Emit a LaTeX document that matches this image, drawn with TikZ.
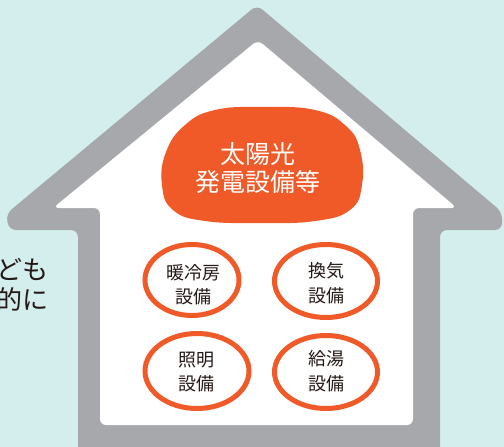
\documentclass[tikz,border=0pt]{standalone}
\usepackage{fontspec}
\newfontfamily\jp{Noto Sans CJK JP}
\definecolor{bgteal}{HTML}{D4EEED}
\definecolor{housegrey}{HTML}{A7A8AB}
\definecolor{sunorange}{HTML}{EF5A28}
\definecolor{inkdark}{HTML}{231815}
\tikzset{
  equipring/.style={draw=sunorange, line width=5pt, fill=white},
  equiptext/.style={inner sep=0pt, align=center, text=inkdark, font=\jp\fontsize{18}{24.5}\selectfont},
}
\begin{document}
\begin{tikzpicture}[x=1pt,y=-1pt]
\useasboundingbox (0,0) rectangle (504,447);
\clip (0,0) rectangle (504,447);
\fill[bgteal] (0,0) rectangle (504,447);
% left cut-off text
\node[inner sep=0pt, anchor=east, align=right, text=inkdark, font=\jp\fontsize{26}{30}\selectfont] (lefttext) at (49,285) {ども\\的に};
% house outline (grey)
\fill[housegrey, rounded corners=7pt] (78,320) -- (78,230) -- (9,230) -- (6,214) -- (257,5) -- (502,212) -- (502,230) -- (440,230) -- (440,458) -- (78,458) -- cycle;
% house interior (white)
\fill[white, rounded corners=6pt] (100,320) -- (100,208) -- (53,208) -- (258,40) -- (457,208) -- (413,208) -- (413,425) -- (100,425) -- cycle;
% orange blob
\fill[sunorange] plot[smooth cycle, tension=0.75] coordinates {(262,107) (315,110) (346,126) (360,150) (362,185) (350,210) (315,221) (262,223) (205,221) (173,210) (162,185) (166,152) (185,125) (215,110)};
\node[inner sep=0pt, align=center, text=white, font=\jp\fontsize{25}{28}\selectfont] (solar) at (258,168) {太陽光\\発電設備等};
% equipment ellipses
\draw[equipring] (192,280) ellipse [x radius=47, y radius=35.5];
\node[equiptext] (hvac) at (193,284.5) {暖冷房\\設備};
\draw[equipring] (326,281) ellipse [x radius=51.5, y radius=36.5];
\node[equiptext] (vent) at (326,283) {換気\\設備};
\draw[equipring] (197,371) ellipse [x radius=52, y radius=37.5];
\node[equiptext] (light) at (196,372) {照明\\設備};
\draw[equipring] (326,372) ellipse [x radius=51.5, y radius=36.5];
\node[equiptext] (water) at (326,371) {給湯\\設備};
\end{tikzpicture}
\end{document}
